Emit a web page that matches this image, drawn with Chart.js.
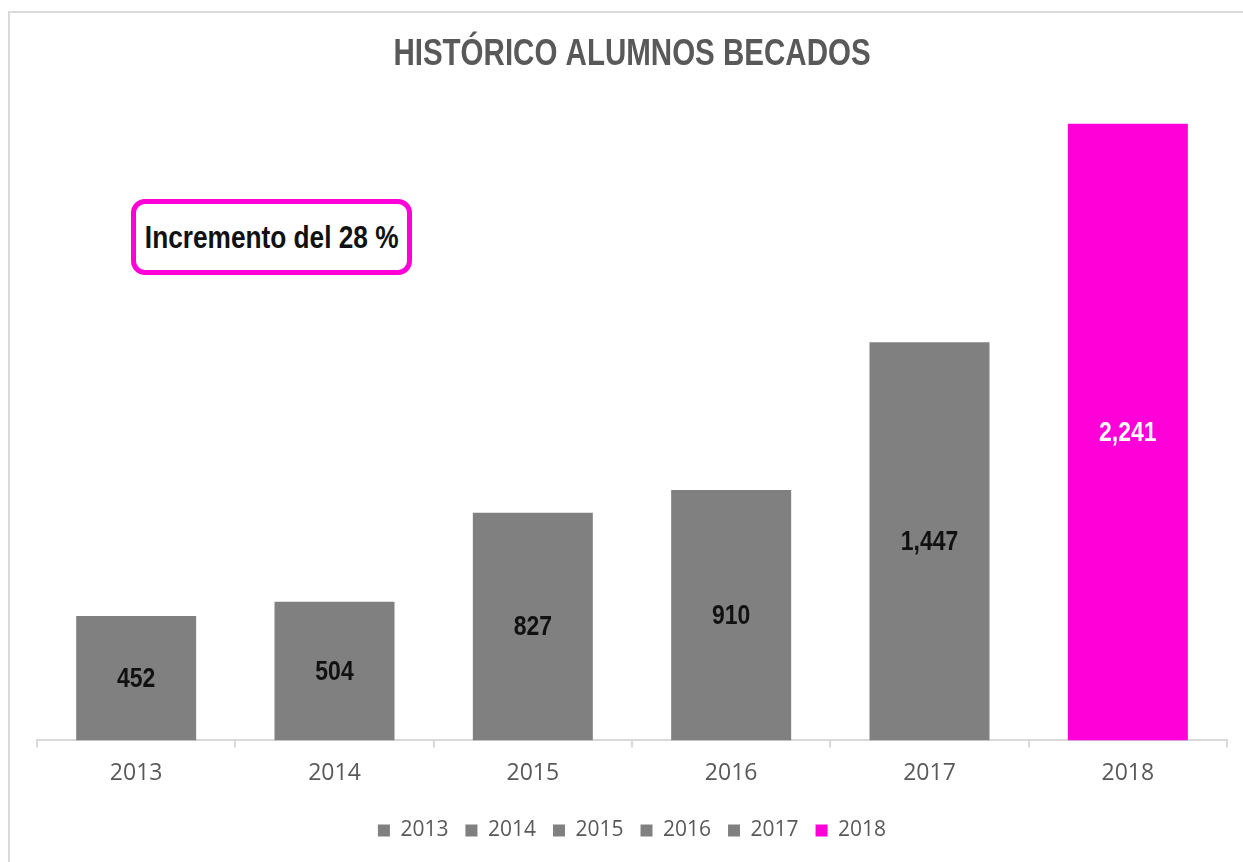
<!DOCTYPE html>
<html>
<head>
<meta charset="utf-8">
<script src="https://cdn.jsdelivr.net/npm/chart.js@4/dist/chart.umd.min.js"></script>
<style>
    html, body { margin: 0; padding: 0; background: #fff; overflow: hidden; }
    #wrap { position: relative; width: 1243px; height: 862px; }
    #frame {
        position: absolute; left: 8px; top: 11px; width: 1400px; height: 1000px;
        border: 2px solid #d9d9d9; box-sizing: border-box;
    }
    #chart { position: absolute; left: 0; top: 0; }
    #note {
        position: absolute; left: 131px; top: 199px; width: 281px; height: 76px;
        box-sizing: border-box; border: 5px solid #ff00d9; border-radius: 14px; background: #fff;
        display: flex; align-items: center; justify-content: center;
        font: bold 32px "Liberation Sans", Arial, sans-serif;
        color: #111;
        white-space: nowrap;
    }
    /* Arial Narrow ~ Arial squeezed to 82% */
    #note span { display: inline-block; transform: scaleX(0.82); }
</style>
</head>
<body>
<div id="wrap">
    <div id="frame"></div>
    <canvas id="chart" width="1243" height="862"></canvas>
    <div id="note"><span>Incremento del 28 %</span></div>
</div>
<script>
const YEARS = ["2013", "2014", "2015", "2016", "2017", "2018"];
const BECADOS = [452, 504, 827, 910, 1447, 2241];
const BAR_COLORS = ["#808080", "#808080", "#808080", "#808080", "#808080", "#ff00d9"];
const LABEL_COLORS = ["#111111", "#111111", "#111111", "#111111", "#111111", "#ffffff"];
const TITLE = "HISTÓRICO ALUMNOS BECADOS";

const SANS = '"Liberation Sans", Arial, sans-serif';
const BODY = '"Open Sans", "Noto Sans", sans-serif';
const NARROW = 0.82;
const TEXT = "#595959";
const LINE = "#d9d9d9";

// draw narrow text (no Arial Narrow installed, so squeeze Liberation Sans)
function narrowText(ctx, str, x, y) {
    ctx.save();
    ctx.translate(x, y);
    ctx.scale(NARROW, 1);
    ctx.fillText(str, 0, 0);
    ctx.restore();
}

const narrowTitle = {
    id: "narrowTitle",
    afterDraw(chart) {
        const ctx = chart.ctx;
        const a = chart.chartArea;
        ctx.save();
        ctx.font = `bold 36px ${SANS}`;
        ctx.fillStyle = TEXT;
        ctx.textAlign = "center";
        ctx.textBaseline = "alphabetic";
        narrowText(ctx, TITLE, (a.left + a.right) / 2, 65);
        ctx.restore();
    },
};

// values written in the middle of each bar
const barValues = {
    id: "barValues",
    afterDatasetsDraw(chart) {
        const ctx = chart.ctx;
        const meta = chart.getDatasetMeta(0);
        ctx.save();
        ctx.font = `bold 28px ${SANS}`;
        ctx.textAlign = "center";
        ctx.textBaseline = "middle";
        meta.data.forEach((bar, i) => {
            ctx.fillStyle = LABEL_COLORS[i];
            narrowText(ctx, BECADOS[i].toLocaleString("en-US"), bar.x, (bar.y + bar.base) / 2 + 1);
        });
        ctx.restore();
    },
};

new Chart(document.getElementById("chart"), {
    type: "bar",
    data: {
        labels: YEARS,
        datasets: [{
            data: BECADOS,
            backgroundColor: BAR_COLORS,
            barPercentage: 0.605,
            categoryPercentage: 1,
        }],
    },
    options: {
        responsive: false,
        animation: false,
        layout: { padding: { left: 37, right: 16, top: 80, bottom: 11 } },
        plugins: {
            legend: {
                position: "bottom",
                onClick: null,
                labels: {
                    boxWidth: 12,
                    boxHeight: 12,
                    color: TEXT,
                    font: { family: BODY, size: 21 },
                    padding: 17,
                    generateLabels: () => YEARS.map((y, i) => ({
                        text: y,
                        fillStyle: BAR_COLORS[i],
                        strokeStyle: BAR_COLORS[i],
                        lineWidth: 0,
                        fontColor: TEXT,
                        index: i,
                    })),
                },
            },
            tooltip: { enabled: false },
        },
        scales: {
            x: {
                grid: { drawOnChartArea: false, color: LINE, tickLength: 7, lineWidth: 2 },
                border: { color: LINE, width: 2 },
                ticks: { color: TEXT, font: { family: BODY, size: 23 }, padding: 12 },
                afterFit(scale) { scale.height += 4; },
            },
            y: {
                display: false,
                min: 0,
                max: 2400,
            },
        },
    },
    plugins: [barValues, narrowTitle],
});
</script>
</body>
</html>
